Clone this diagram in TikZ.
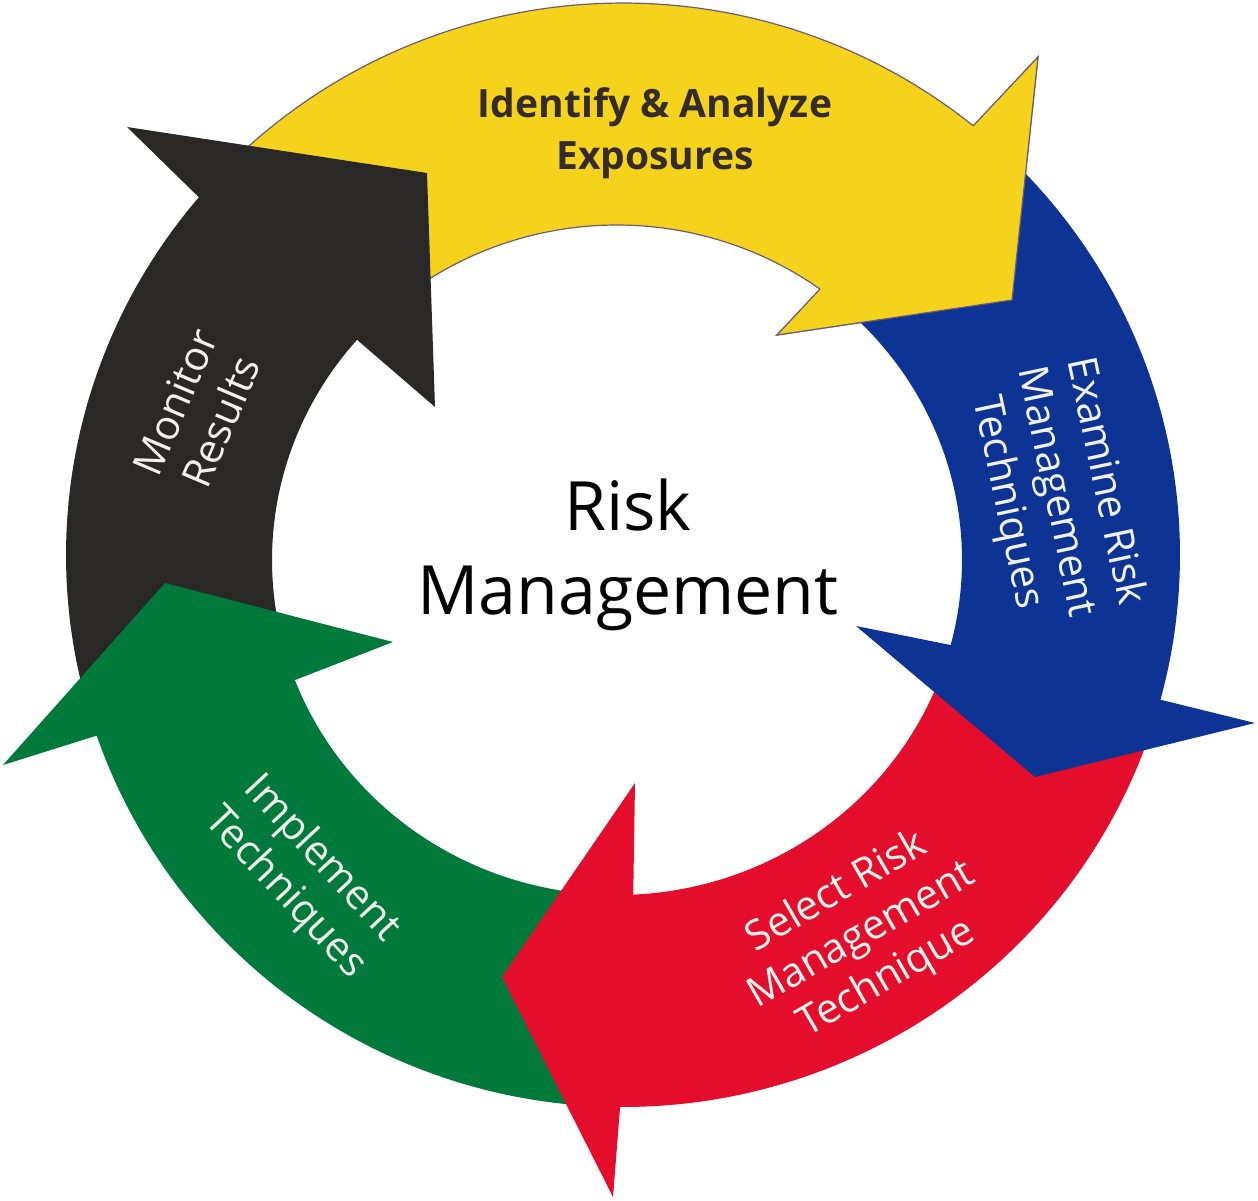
\documentclass[tikz,border=0pt]{standalone}
\usepackage{fontspec}
\setmainfont{Open Sans}
\definecolor{ylw}{RGB}{245,210,28}
\definecolor{ylwline}{RGB}{110,92,110}
\definecolor{blu}{RGB}{13,52,148}
\definecolor{rd}{RGB}{228,14,44}
\definecolor{grn}{RGB}{0,122,58}
\definecolor{blk}{RGB}{42,40,38}
\definecolor{ytext}{RGB}{52,44,44}
\definecolor{wtext}{RGB}{242,242,236}
\tikzset{
  lbl/.style={text=wtext, align=center, inner sep=0pt, font=\fontsize{20.5}{25}\selectfont},
  ylbl/.style={text=ytext, align=center, inner sep=0pt, font=\bfseries\fontsize{19.5}{26}\selectfont},
  ctr/.style={text=black, align=center, inner sep=0pt, font=\fontsize{34}{42}\selectfont},
  edge/.style={ylwline, line width=0.6pt, line join=miter},
  arcs/.style={smooth, samples=40, variable=\t}
}
% outer edge: centre (623,555), radii 557/552 ; inner edge: centre (617,560), radii 345/335
\begin{document}
\begin{tikzpicture}[x=0.5pt,y=-0.5pt]
\useasboundingbox (0,0) rectangle (1258,1200);
% yellow arrow
\fill[ylw, draw=ylwline, line width=0.6pt]
  plot[arcs, domain=-134.2:-51] ({623+557*cos(\t)},{555+552*sin(\t)})
  -- (1038,57) -- (1012,300) -- (777,335)
  -- plot[arcs, domain=-53.9:-128.2] ({617+345*cos(\t)},{560+335*sin(\t)}) -- cycle;
% black arrow
\fill[blk]
  plot[arcs, domain=164.4:220.4] ({623+557*cos(\t)},{555+552*sin(\t)})
  -- (127,127) -- (427,173) -- (435,407)
  -- plot[arcs, domain=221.1:164.8] ({617+345*cos(\t)},{560+335*sin(\t)}) -- cycle;
% green arrow
\fill[grn]
  plot[arcs, domain=92.4:160.9] ({623+557*cos(\t)},{555+552*sin(\t)})
  -- (3,765) -- (165,583) -- (393,642)
  -- plot[arcs, domain=159:94.2] ({617+345*cos(\t)},{560+335*sin(\t)}) -- cycle;
% red arrow
\fill[rd]
  plot[arcs, domain=18.5:90.3] ({623+557*cos(\t)},{555+552*sin(\t)})
  -- (613,1197) -- (502,977) -- (635,783)
  -- plot[arcs, domain=87.3:21] ({617+345*cos(\t)},{560+335*sin(\t)}) -- cycle;
% blue arrow
\fill[blu]
  plot[arcs, domain=-47.1:15.2] ({623+557*cos(\t)},{555+552*sin(\t)})
  -- (1255,723) -- (1035,777) -- (856,626)
  -- plot[arcs, domain=14.7:-48] ({617+345*cos(\t)},{560+335*sin(\t)}) -- cycle;
% yellow head on top of blue tail
\fill[ylw] (973,126) -- (1038,57) -- (1012,300) -- (777,335) -- (820,289) -- cycle;
\draw[edge] (973,126) -- (1038,57) -- (1012,300) -- (777,335) -- (820,289);
% labels
\node[ylbl] (tY) at (655,133) {Identify \& Analyze\\Exposures};
\node[lbl, rotate=-78] (tB) at (1055,492) {Examine Risk\\Management\\Techniques};
\node[lbl, rotate=30] (tR) at (862,936) {Select Risk\\Management\\Technique};
\node[lbl, rotate=-47] (tG) at (303,876) {Implement\\Techniques};
\node[lbl, rotate=67] (tK) at (198,412) {Monitor\\Results};
\node[ctr] (tC) at (628,555) {Risk\\Management};
\end{tikzpicture}
\end{document}
